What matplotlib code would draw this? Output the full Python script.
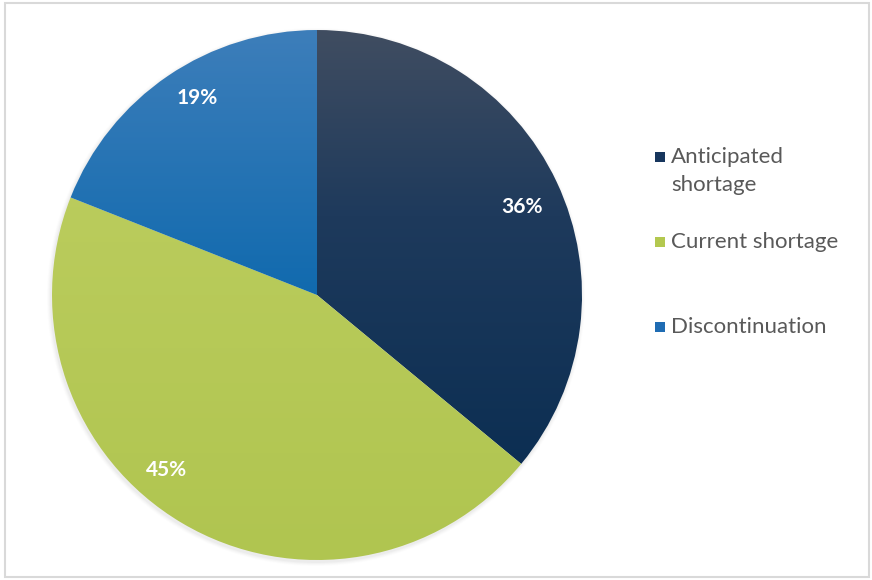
"""
Shortage type breakdown pie chart with vertical gradient fills.
"""

import numpy as np
import matplotlib
matplotlib.use("Agg")
import matplotlib.pyplot as plt
from matplotlib.colors import LinearSegmentedColormap
from matplotlib.patches import Rectangle

# Data
categories = ["Anticipated\nshortage", "Current shortage", "Discontinuation"]
shares = [36, 45, 19]

# Styling: gradient stops (top -> bottom) and legend swatch per slice
grad_colors = [
    [(0.0, "#404d61"), (0.35, "#1e3a5c"), (1.0, "#052a4f")],
    [(0.0, "#bfcf62"), (1.0, "#b0c550")],
    [(0.0, "#3d7eba"), (0.55, "#0c68ad"), (1.0, "#0662a8")],
]
swatch_colors = ["#17365d", "#b3c84f", "#1f6cb3"]
label_angle_shift = [-2, -10, -3]   # degrees, nudge for label placement
label_dist = [0.84, 0.87, 0.87]
legend_y = [157, 242, 327]          # px from top, swatch centre of each entry
line_step = 28                      # px between wrapped legend lines

W, H = 872, 580
fig = plt.figure(figsize=(W / 100, H / 100), dpi=100)
ax = fig.add_axes([0, 0, 1, 1])

cx, cy, r = 317, H - 295, 265
wedges, _ = ax.pie(shares, startangle=90, counterclock=False,
                   center=(cx, cy), radius=r, frame=True,
                   wedgeprops=dict(linewidth=0))

# soft shadow behind the pie
for k, a in enumerate([0.05, 0.04, 0.03, 0.02]):
    sh = plt.Circle((cx - 1, cy - 2), r + 1 + k, color="#808080", alpha=a,
                    zorder=0, lw=0)
    ax.add_patch(sh)

# vertical gradient clipped to each wedge
grad = np.linspace(0, 1, 256).reshape(-1, 1)
for w, stops in zip(wedges, grad_colors):
    w.set_facecolor("none")
    cmap = LinearSegmentedColormap.from_list("g", stops)
    im = ax.imshow(grad, cmap=cmap, aspect="auto",
                   extent=(cx - r, cx + r, cy - r, cy + r),
                   origin="upper", zorder=1)
    im.set_clip_path(w)

# percentage labels
for w, val, shift, d in zip(wedges, shares, label_angle_shift, label_dist):
    ang = np.deg2rad((w.theta1 + w.theta2) / 2 + shift)
    ax.text(cx + d * r * np.cos(ang), cy + d * r * np.sin(ang), f"{val}%",
            ha="center", va="center", color="white", fontsize=15,
            fontweight="bold", family="Lato", zorder=3)

ax.set_xlim(0, W)
ax.set_ylim(0, H)
ax.set_aspect("equal")
ax.axis("off")

# legend drawn as swatches + text, one text per wrapped line
for label, col, y in zip(categories, swatch_colors, legend_y):
    ax.add_patch(Rectangle((655, H - y - 5), 10, 10, facecolor=col,
                           edgecolor="none"))
    for i, line in enumerate(label.split("\n")):
        ax.text(671, H - (y + 6 + i * line_step), line, ha="left",
                va="baseline", color="#595959", fontsize=16, family="Lato")

# chart area border
fig.add_artist(Rectangle((5 / W, 3 / H), 864 / W, 574 / H,
                         transform=fig.transFigure, fill=False,
                         edgecolor="#d9d9d9", linewidth=1.5))

fig.savefig("out.png", dpi=100)
